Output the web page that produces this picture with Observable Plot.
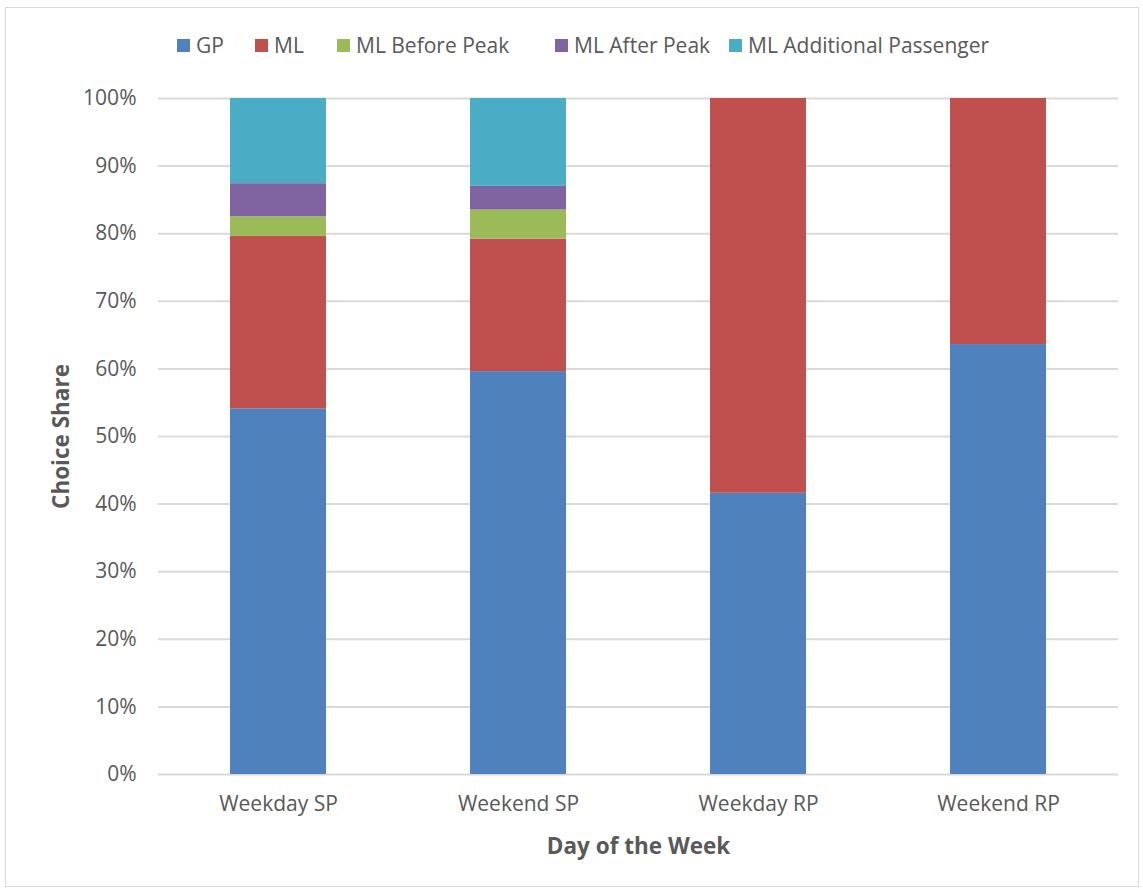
<!DOCTYPE html>
<html>
<head>
<meta charset="utf-8">
<script src="https://cdn.jsdelivr.net/npm/d3@7"></script>
<script src="https://cdn.jsdelivr.net/npm/@observablehq/plot@0.6"></script>
<style>
  html, body { margin: 0; padding: 0; background: #fff; }
  body { width: 1143px; height: 891px; position: relative; overflow: hidden; font-family: "Open Sans", sans-serif; }
  #frame { position: absolute; left: 5px; top: 7px; width: 1134px; height: 880px; border: 1px solid #d9d9d9; box-sizing: border-box; }
  #legend { position: absolute; left: 0; top: 0; width: 1143px; height: 70px; }
  .item { position: absolute; top: 31px; display: flex; align-items: center; font-size: 21px; color: #595959; white-space: nowrap; }
  .sw { width: 13px; height: 13px; margin-right: 6px; }
  #chart { position: absolute; left: 0; top: 70px; }
</style>
</head>
<body>
<div id="frame"></div>
<div id="legend"></div>
<div id="chart"></div>
<script>
const categories = ["Weekday SP", "Weekend SP", "Weekday RP", "Weekend RP"];
const seriesNames = ["GP", "ML", "ML Before Peak", "ML After Peak", "ML Additional Passenger"];
const seriesColors = ["#4f81bd", "#c0504d", "#9bbb59", "#8064a2", "#4bacc6"];
// shares in percent, per category in order of categories
const GP = [54.1, 59.6, 41.6, 63.6];
const ML = [25.5, 19.6, 58.4, 36.4];
const MLBeforePeak = [2.9, 4.3, 0, 0];
const MLAfterPeak = [4.9, 3.5, 0, 0];
const MLAdditionalPassenger = [12.6, 13.0, 0, 0];
const yTicks = [0, 10, 20, 30, 40, 50, 60, 70, 80, 90, 100];
const legendX = [177, 255, 337, 555, 729];

const seriesValues = [GP, ML, MLBeforePeak, MLAfterPeak, MLAdditionalPassenger];
const data = [];
categories.forEach((c, i) => {
  seriesNames.forEach((s, j) => {
    data.push({category: c, series: s, value: seriesValues[j][i] / 100});
  });
});

// legend
const legend = document.getElementById("legend");
seriesNames.forEach((s, j) => {
  const it = document.createElement("div");
  it.className = "item";
  it.style.left = legendX[j] + "px";
  const sw = document.createElement("span");
  sw.className = "sw";
  sw.style.background = seriesColors[j];
  const tx = document.createElement("span");
  tx.textContent = s;
  it.appendChild(sw); it.appendChild(tx);
  legend.appendChild(it);
});

const fmt = d => Math.round(d * 100) + "%";
const chart = Plot.plot({
  width: 1143,
  height: 821,
  marginLeft: 158,
  marginRight: 25,
  marginTop: 28,
  marginBottom: 117,
  style: {fontFamily: "Open Sans, sans-serif", fontSize: "21px", color: "#595959", background: "transparent"},
  x: {domain: categories, paddingInner: 0.6, paddingOuter: 0.3},
  y: {domain: [0, 1]},
  color: {domain: seriesNames, range: seriesColors},
  marks: [
    Plot.gridY(yTicks.map(d => d / 100), {stroke: "#d9d9d9", strokeOpacity: 1, strokeWidth: 2}),
    Plot.barY(data, Plot.stackY({order: seriesNames}, {x: "category", y: "value", fill: "series"})),
    Plot.axisX({tickSize: 0, tickPadding: 22, fontSize: 21, label: "Day of the Week", labelAnchor: "center", labelArrow: "none", labelOffset: 79}),
    Plot.axisY(yTicks.map(d => d / 100), {tickSize: 0, tickPadding: 22, tickFormat: fmt, fontSize: 21, label: "Choice Share", labelAnchor: "center", labelArrow: "none", labelOffset: 105})
  ]
});
d3.select(chart).selectAll('g[aria-label="x-axis label"] text, g[aria-label="y-axis label"] text')
  .attr("font-weight", "bold").attr("font-size", 22.5);
document.getElementById("chart").appendChild(chart);
</script>
</body>
</html>
